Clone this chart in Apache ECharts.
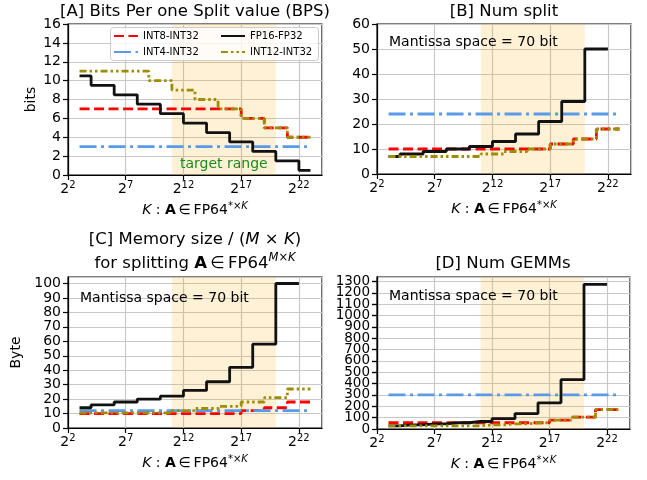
<!DOCTYPE html>
<html><head><meta charset="utf-8">
<script src="https://cdn.jsdelivr.net/npm/echarts@6/dist/echarts.min.js"></script>
<style>html,body{margin:0;padding:0;background:#fff}#c{width:647px;height:480px}</style>
</head><body><div id="c"></div>
<script>
// log2(K) exponents
const exps = [3,4,5,6,7,8,9,10,11,12,13,14,15,16,17,18,19,20,21,22,23];
const xTicks = [2,7,12,17,22];
const targetRange = [11, 20];
const seriesNames = ['INT8-INT32','INT4-INT32','FP16-FP32','INT12-INT32'];

// [A] bits per split value
const bpsINT8  = [7,7,7,7,7,7,7,7,7,7,7,7,7,7,6,6,5,5,4,4,4];
const bpsINT4  = [3,3,3,3,3,3,3,3,3,3,3,3,3,3,3,3,3,3,3,3,3];
const bpsFP16  = [10.5,9.5,9.5,8.5,8.5,7.5,7.5,6.5,6.5,5.5,5.5,4.5,4.5,3.5,3.5,2.5,2.5,1.5,1.5,0.5,0.5];
const bpsINT12 = [11,11,11,11,11,11,10,10,9,9,8,8,7,7,6,6,5,5,4,4,4];
// [B] num split
const splitINT8  = [10,10,10,10,10,10,10,10,10,10,10,10,10,10,12,12,14,14,18,18,18];
const splitINT4  = [24,24,24,24,24,24,24,24,24,24,24,24,24,24,24,24,24,24,24,24,24];
const splitFP16  = [7,8,8,9,9,10,10,11,11,13,13,16,16,21,21,29,29,50,50,50];
const splitINT12 = [7,7,7,7,7,7,7,7,8,8,9,9,10,10,12,12,14,14,18,18,18];
// [C] memory size / (M x K)
const memINT8  = [10,10,10,10,10,10,10,10,10,10,10,10,10,10,12,12,14,14,18,18,18];
const memINT4  = [12,12,12,12,12,12,12,12,12,12,12,12,12,12,12,12,12,12,12,12,12];
const memFP16  = [14,16,16,18,18,20,20,22,22,26,26,32,32,42,42,58,58,100,100,100];
const memINT12 = [10.5,10.5,10.5,10.5,10.5,10.5,10.5,10.5,12,12,13.5,13.5,15,15,18,18,21,21,27,27,27];
// [D] num GEMMs
const gemmINT8  = [55,55,55,55,55,55,55,55,55,55,55,55,55,55,78,78,105,105,171,171,171];
const gemmINT4  = [300,300,300,300,300,300,300,300,300,300,300,300,300,300,300,300,300,300,300,300,300];
const gemmFP16  = [28,36,36,45,45,55,55,66,66,91,91,136,136,231,231,435,435,1275,1275,1275];
const gemmINT12 = [28,28,28,28,28,28,28,28,36,36,45,45,55,55,78,78,105,105,171,171,171];

const FONT = 'DejaVu Sans';
const X0 = xTicks[0];
const colors = ['#ff0000', '#5a9ae8', '#111111', '#a08c00'];
const dashes = [[10,4.5], [17,4.5,3,4.5], 'solid', [7,3,2.5,3,2.5,3]];

const grids = [
  {left:68,  top:24,  width:254, height:151},
  {left:377, top:24,  width:254, height:150},
  {left:68,  top:277, width:254, height:151},
  {left:377, top:277, width:253, height:152}
];
const yCfg = [
  {min:0, max:16,   interval:2,   name:'bits', gap:30, fs:14},
  {min:0, max:60,   interval:10,  name:'',     gap:30, fs:14},
  {min:0, max:104.5,interval:10,  name:'Byte', gap:45, fs:14},
  {min:0, max:1340, interval:100, name:'',     gap:30, fs:13.5}
];
const panelData = [
  [bpsINT8, bpsINT4, bpsFP16, bpsINT12],
  [splitINT8, splitINT4, splitFP16, splitINT12],
  [memINT8, memINT4, memFP16, memINT12],
  [gemmINT8, gemmINT4, gemmFP16, gemmINT12]
];

const supRich = {
  n: {fontSize:14, fontFamily:FONT, color:'#000', lineHeight:18, verticalAlign:'middle'},
  s: {fontSize:10, fontFamily:FONT, color:'#000', lineHeight:10, verticalAlign:'top'}
};
const nameRich = {
  n: {fontSize:14, fontFamily:FONT, color:'#000', lineHeight:18, verticalAlign:'middle'},
  i: {fontSize:14, fontFamily:FONT, color:'#000', lineHeight:18, verticalAlign:'middle', fontStyle:'italic'},
  b: {fontSize:14, fontFamily:FONT, color:'#000', lineHeight:18, verticalAlign:'middle', fontWeight:'bold'},
  s: {fontSize:10, fontFamily:FONT, color:'#000', lineHeight:10, verticalAlign:'top'},
  si:{fontSize:10, fontFamily:FONT, color:'#000', lineHeight:10, verticalAlign:'top', fontStyle:'italic'}
};
const xName = '{i|K}{n| : }{b|A}{n|\u2009∈\u2009FP64}{s|*×}{si|K}';

const xAxis = grids.map((g, i) => ({
  gridIndex:i, type:'value', min:0, max:24 - X0, interval:5,
  name:xName, nameLocation:'middle', nameGap:26,
  nameTextStyle:{rich:nameRich},
  axisLine:{show:true, onZero:false, lineStyle:{color:'#000', width:1.2}},
  axisTick:{show:true, length:5, lineStyle:{color:'#000', width:1.2}},
  axisLabel:{margin:5, showMaxLabel:false, rich:supRich,
    formatter: v => (v % 5 === 0) ? '{n|2}{s|' + (v + X0) + '}' : ''},
  splitLine:{show:true, lineStyle:{color:'#c8c8c8', width:1.2}}
}));
function makeY(c, i, extra) {
  return Object.assign({
    gridIndex:i, type:'value', position:'left', min:c.min, max:c.max, interval:c.interval,
    name:c.name, nameLocation:'middle', nameGap:c.gap,
    nameTextStyle:{fontSize:14, fontFamily:FONT, color:'#000'},
    axisLine:{show:true, onZero:false, lineStyle:{color:'#000', width:1.2}},
    axisTick:{show:true, length:5, lineStyle:{color:'#000', width:1.2}},
    axisLabel:{margin:7, showMinLabel:true, showMaxLabel: c.max % c.interval === 0,
      fontSize:c.fs, fontFamily:FONT, color:'#000', formatter: v => String(v)},
    splitLine:{show:true, lineStyle:{color:'#c8c8c8', width:1.2}}
  }, extra || {});
}
const yAxis = yCfg.map((c, i) => makeY(c, i, i === 3 ? {
  axisLabel:{margin:7, showMinLabel:false, showMaxLabel:false,
    fontSize:c.fs, fontFamily:FONT, color:'#000', formatter: v => String(v)}
} : null));
// overlay axis in panel D that carries only the "0" label (tightly packed labels)
yAxis.push(makeY(yCfg[3], 3, {
  name:'', splitLine:{show:false}, position:'left', offset:0,
  axisLabel:{margin:7, showMinLabel:true, showMaxLabel:false,
    fontSize:yCfg[3].fs, fontFamily:FONT, color:'#000', formatter: v => v === yCfg[3].min ? String(v) : ''}
}));

const series = [];
panelData.forEach((arrs, p) => {
  arrs.forEach((arr, k) => {
    const s = {
      name: seriesNames[k], type:'line', step:'end', xAxisIndex:p, yAxisIndex:p,
      symbol:'none', showSymbol:false, animation:false, z: 2,
      data: arr.map((v, j) => [exps[j] - X0, v]),
      lineStyle:{color:colors[k], width:2.8, type:dashes[k]},
      itemStyle:{color:colors[k]}
    };
    if (k === 0) {
      s.markArea = {silent:true, itemStyle:{color:'rgba(255,165,0,0.16)'},
        label: p === 0 ? {show:true, position:'insideBottom', distance:4,
          color:'#1a8a1a', fontSize:14, fontFamily:FONT} : {show:false},
        data:[[{xAxis: targetRange[0] - X0, name: p === 0 ? 'target range' : ''}, {xAxis: targetRange[1] - X0}]]};
    }
    series.push(s);
  });
});

const titleStyle = {fontSize:16.5, fontFamily:FONT, color:'#000', fontWeight:'normal'};
const tRich = {
  n: {fontSize:16.5, fontFamily:FONT, color:'#000', lineHeight:24, verticalAlign:'middle'},
  i: {fontSize:16.5, fontFamily:FONT, color:'#000', lineHeight:24, verticalAlign:'middle', fontStyle:'italic'},
  b: {fontSize:16.5, fontFamily:FONT, color:'#000', lineHeight:24, verticalAlign:'middle', fontWeight:'bold'},
  s: {fontSize:11.5, fontFamily:FONT, color:'#000', lineHeight:14, verticalAlign:'top'},
  si:{fontSize:11.5, fontFamily:FONT, color:'#000', lineHeight:14, verticalAlign:'top', fontStyle:'italic'}
};

const mantissa = 'Mantissa space = 70 bit';
const legendCommon = {orient:'vertical', top:31, padding:0, itemWidth:24, itemHeight:10, itemGap:6, z:6,
  itemStyle:{opacity:0}, textStyle:{fontSize:10, fontFamily:FONT, color:'#000'}};
const option = {
  backgroundColor:'#fff',
  animation:false,
  title:[
    {text:'[A] Bits Per one Split value (BPS)', left:195, top:3, textAlign:'center', textStyle:titleStyle, padding:0},
    {text:'[B] Num split', left:504, top:3, textAlign:'center', textStyle:titleStyle, padding:0},
    {text:'{n|[C] Memory size / (}{i|M}{n| × }{i|K}{n|)}\n{n|for splitting }{b|A}{n|\u2009∈\u2009FP64}{si|M}{s|×}{si|K}',
      left:195, top:228, textAlign:'center', textStyle:Object.assign({}, titleStyle, {rich:tRich}), padding:0},
    {text:'[D] Num GEMMs', left:503, top:255, textAlign:'center', textStyle:titleStyle, padding:0}
  ],
  legend:[
    Object.assign({data:[seriesNames[0], seriesNames[1]], left:113}, legendCommon),
    Object.assign({data:[seriesNames[2], seriesNames[3]], left:220}, legendCommon)
  ],
  graphic:[
    {type:'rect', left:110, top:27, z:3, shape:{width:208, height:33, r:3},
     style:{fill:'rgba(255,255,255,0.8)', stroke:'#cccccc', lineWidth:1}},
    {type:'text', left:389, top:35, z:10, style:{text:mantissa, fontSize:14, fontFamily:FONT, fill:'#000'}},
    {type:'text', left:80,  top:291, z:10, style:{text:mantissa, fontSize:14, fontFamily:FONT, fill:'#000'}},
    {type:'text', left:389, top:289, z:10, style:{text:mantissa, fontSize:14, fontFamily:FONT, fill:'#000'}}
  ],
  grid: grids.map(g => Object.assign({show:true, borderColor:'#000', borderWidth:1.2, backgroundColor:'transparent'}, g)),
  xAxis, yAxis, series
};
const chart = echarts.init(document.getElementById('c'), null, {renderer:'canvas'});
chart.setOption(option);
</script></body></html>
